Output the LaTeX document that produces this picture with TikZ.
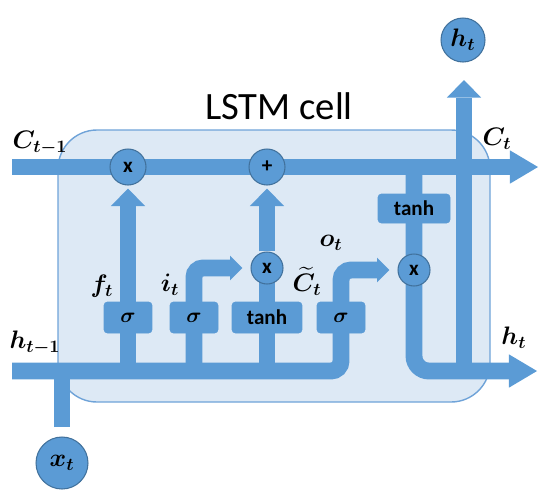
\documentclass[tikz,border=0pt]{standalone}
\usepackage{amsmath}
\usepackage{fontspec}
\setsansfont{Carlito}
\usetikzlibrary{arrows.meta}
\usetikzlibrary{positioning}
\definecolor{lstmblue}{HTML}{5B9BD5}
\definecolor{lstmdark}{HTML}{41719C}
\definecolor{cellfill}{HTML}{DDE9F5}
\definecolor{cellline}{HTML}{6FA3D8}
\pgfdeclarelayer{boxlayer}
\pgfdeclarelayer{barlayer}
\pgfsetlayers{boxlayer,barlayer,main}
\tikzstyle{cellbox}=[draw=cellline, fill=cellfill, line width=0.8pt, rounded corners=0.78cm]
\tikzstyle{bar}=[draw=lstmblue, line width=9.6pt]
\tikzstyle{bigtip}=[-{Triangle[width=19pt,length=16pt,line width=0pt]}]
\tikzstyle{uptip}=[-{Triangle[width=19.5pt,length=10pt,line width=0pt]}, shorten >=0.06cm]
\tikzstyle{smalltip}=[-{Triangle[width=14pt,length=7pt,line width=0pt]}, shorten >=0.16cm]
\tikzstyle{gate}=[circle, fill=lstmblue, draw=lstmdark, line width=0.6pt, inner sep=0, minimum size=0.72cm, font=\sffamily\bfseries\fontsize{12}{14}\selectfont]
\tikzstyle{actbox}=[rectangle, fill=lstmblue, draw=lstmblue, rounded corners=2pt, inner sep=0, minimum width=0.96cm, minimum height=0.62cm, font=\sffamily\bfseries\fontsize{12}{14}\selectfont]
\tikzstyle{io}=[circle, fill=lstmblue, draw=lstmdark, line width=0.6pt, inner sep=0, minimum size=0.88cm]
\tikzstyle{lbl}=[inner sep=1pt]

\begin{document}
\begin{tikzpicture}[x=0.02cm, y=-0.02cm, font=\fontsize{14}{16}\selectfont]
    \useasboundingbox (0,0) rectangle (550,501) ;
    % gates and activations
    \node[gate] (fx) at (128,167) {x} ;
    \node[gate] (add) at (267,167) {+} ;
    \node[gate, minimum size=0.64cm] (ix) at (267,268) {x} ;
    \node[gate, minimum size=0.64cm] (ox) at (414,270) {x} ;
    \node[actbox] (fsig) at (128,317.5) {$\boldsymbol{\sigma}$} ;
    \node[actbox] (isig) at (194,317.5) {$\boldsymbol{\sigma}$} ;
    \node[actbox, minimum width=1.4cm] (ctanh) at (267,317.5) {tanh} ;
    \node[actbox] (osig) at (341,317.5) {$\boldsymbol{\sigma}$} ;
    \node[actbox, minimum width=1.44cm, minimum height=0.58cm] (otanh) at (414,208.5) {tanh} ;
    \node[io] (ht) at (463,40) {$\boldsymbol{h_t}$} ;
    \node[io, minimum size=1.04cm] (xt) at (62,463) {$\boldsymbol{x_t}$} ;
    \coordinate (cin) at (12,167) ;
    \coordinate (cout) at (538,167) ;
    \coordinate (hin) at (12,371) ;
    \coordinate (hout) at (537,371) ;
    \coordinate (hup) at (464,77) ;
    \coordinate (xin) at (62,427) ;
    % cell
    \begin{pgfonlayer}{boxlayer}
        \draw[cellbox] (58,130) rectangle (490,402) ;
    \end{pgfonlayer}
    \node[font=\sffamily\fontsize{22}{26}\selectfont] (title) at (279,106) {LSTM cell} ;
    % flows
    \begin{pgfonlayer}{barlayer}
        \draw[bar, bigtip] (cin) -- (fx.center) -- (add.center) -- (cout) ;
        \draw[bar, smalltip, rounded corners=0.2cm] (hin) -- (osig |- hin) -- (osig |- ox) -- (ox) ;
        \draw[bar, uptip] (fsig |- hin) -- (fx) ;
        \draw[bar, smalltip, rounded corners=0.18cm] (isig |- hin) -- (isig |- ix) -- (ix) ;
        \draw[bar] (ctanh |- hin) -- (ix.center) ;
        \draw[bar, uptip] (ix) -- (add) ;
        \draw[bar, bigtip, rounded corners=0.3cm] (ox |- cin) -- (ox |- hin) -- (hout) ;
        \draw[bar, uptip] (hup |- hin) -- (hup) ;
        \draw[bar] (xin) -- (xin |- hin) ;
    \end{pgfonlayer}
    % labels
    \node[lbl] (ctm1) at (40,143) {$\boldsymbol{C_{t-1}}$} ;
    \node[lbl] (htm1) at (35,343) {$\boldsymbol{h_{t-1}}$} ;
    \node[lbl] (ft) at (102,286) {$\boldsymbol{f_t}$} ;
    \node[lbl] (it) at (170,285) {$\boldsymbol{i_t}$} ;
    \node[lbl] (ot) at (331,243) {$\boldsymbol{o_t}$} ;
    \node[lbl] (ctil) at (307,281) {$\boldsymbol{\widetilde{C}_t}$} ;
    \node[lbl] (ct) at (497,139) {$\boldsymbol{C_t}$} ;
    \node[lbl] (htr) at (514,338) {$\boldsymbol{h_t}$} ;
\end{tikzpicture}
\end{document}
